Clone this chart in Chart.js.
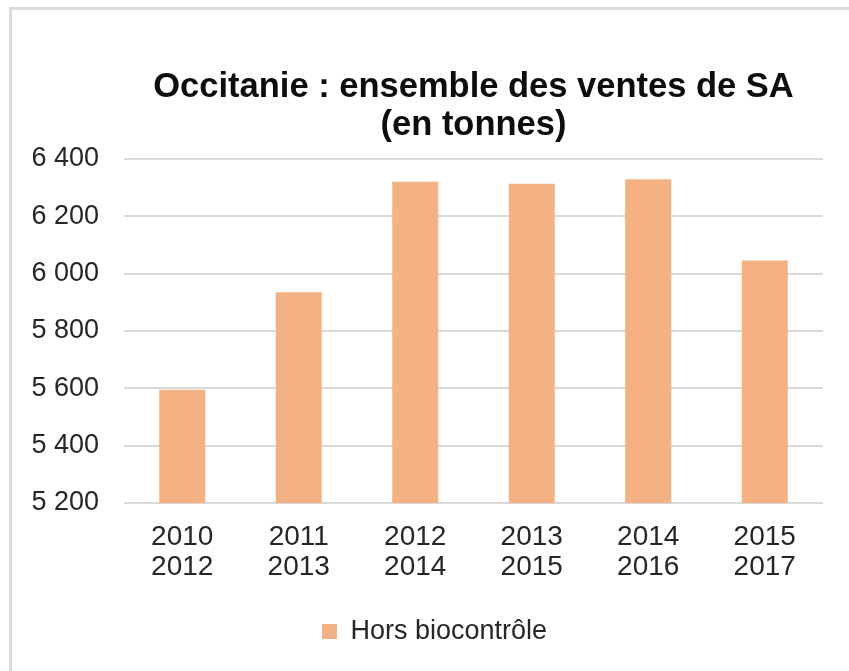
<!DOCTYPE html>
<html lang="fr">
<head>
<meta charset="UTF-8">
<title>Occitanie : ensemble des ventes de SA</title>
<script src="https://cdn.jsdelivr.net/npm/chart.js"></script>
<style>
  html, body { margin: 0; padding: 0; background: #fff; }
  #frame {
    position: absolute; left: 9px; top: 7px;
    width: 837px; height: 661px;
    border-top: 3px solid #dadada; border-left: 3px solid #dadada;
  }
  #chart { display: block; }
</style>
</head>
<body>
<div id="frame"><canvas id="chart" width="837" height="661"></canvas></div>
<script>
  // periods (3-year windows)
  const periods = [
    ['2010', '2012'], ['2011', '2013'], ['2012', '2014'],
    ['2013', '2015'], ['2014', '2016'], ['2015', '2017']
  ];
  // tonnes of active substances sold, excluding biocontrol
  const horsBiocontrole = [5595, 5935, 6320, 6313, 6329, 6046];
  const seriesName = 'Hors biocontrôle';

  const fmt = v => String(v).replace(/\B(?=(\d{3})+(?!\d))/g, ' ');
  const font = 'Arial, "Liberation Sans", sans-serif';

  // nudge the legend a little to the right, like the original
  const legendNudge = {
    id: 'legendNudge',
    afterLayout(chart) {
      chart.legend.left += 7;
      chart.legend.right += 7;
    }
  };

  new Chart(document.getElementById('chart'), {
    type: 'bar',
    data: {
      labels: periods,
      datasets: [{
        label: seriesName,
        data: horsBiocontrole,
        backgroundColor: '#F4B183',
        categoryPercentage: 1,
        barPercentage: 0.395
      }]
    },
    plugins: [legendNudge],
    options: {
      responsive: false,
      animation: false,
      layout: { padding: { left: 20, right: 26, top: 0, bottom: 16 } },
      plugins: {
        title: {
          display: true,
          text: ['Occitanie : ensemble des ventes de SA', '(en tonnes)'],
          color: '#0d0d0d',
          fullSize: false,
          font: { family: font, size: 34.5, weight: 'bold', lineHeight: 1.1 },
          padding: { top: 59, bottom: 14 }
        },
        legend: {
          position: 'bottom',
          labels: {
            color: '#262626',
            boxWidth: 15,
            boxHeight: 15,
            padding: 4,
            font: { family: font, size: 27 }
          }
        },
        tooltip: { enabled: false }
      },
      scales: {
        y: {
          min: 5200,
          max: 6400,
          afterFit: s => { s.width = 92; },
          ticks: {
            stepSize: 200,
            padding: 25,
            color: '#262626',
            font: { family: font, size: 27 },
            callback: v => fmt(v)
          },
          grid: { color: '#d9d9d9', lineWidth: 2, drawTicks: false },
          border: { display: false }
        },
        x: {
          afterFit: s => { s.height = 111; },
          ticks: {
            padding: 19,
            color: '#262626',
            font: { family: font, size: 28, lineHeight: 1.07 },
            maxRotation: 0
          },
          grid: { display: false, drawTicks: false },
          border: { display: false }
        }
      }
    }
  });
</script>
</body>
</html>
